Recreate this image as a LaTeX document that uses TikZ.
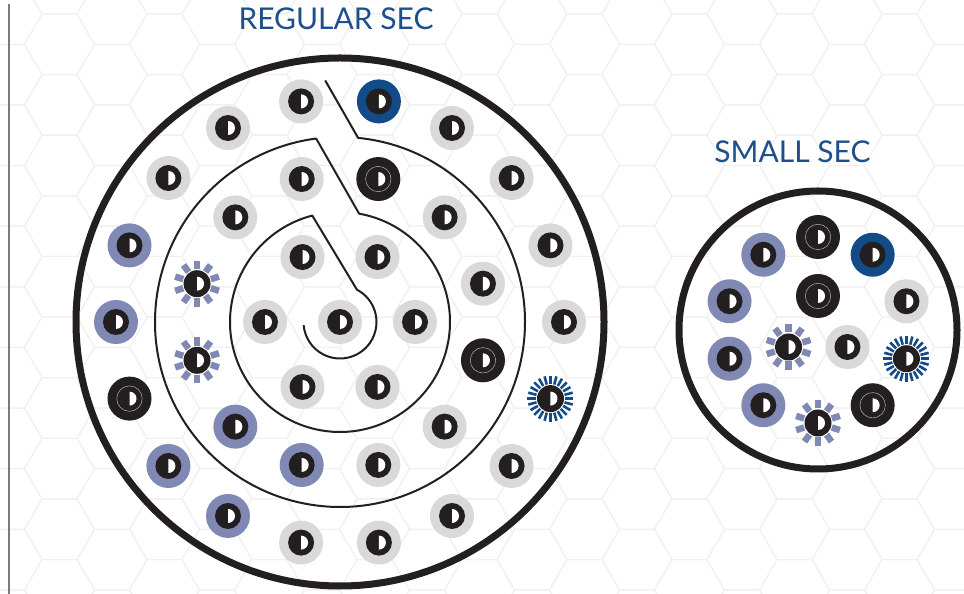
\documentclass[tikz,border=0pt]{standalone}
\usepackage{fontspec}
\setmainfont{Lato}
\usetikzlibrary{calc}
\definecolor{ink}{HTML}{231F20}
\definecolor{ltgray}{HTML}{D9D9D9}
\definecolor{slate}{HTML}{8089B4}
\definecolor{navy}{HTML}{124B87}
\definecolor{titleblue}{HTML}{1F4E8C}
\definecolor{hexline}{HTML}{F0F0F0}
\definecolor{vline}{HTML}{7A7A7A}
\tikzset{
  title/.style={text=titleblue, font=\fontsize{30}{33}\selectfont, inner sep=0pt, anchor=base},
  rim/.style={draw=ink, line width=7pt},
  spiral/.style={draw=ink, line width=2pt, line join=round},
  pics/tok/.style={code={
     \fill[#1] (0,0) circle[radius=22];
     \fill[ink] (0,0) circle[radius=13];
     \fill[white] (0,-7) arc[start angle=-90,end angle=90,radius=7] -- cycle;
  }},
  pics/blk/.style={code={
     \fill[ink] (0,0) circle[radius=22];
     \draw[gray!60, line width=0.5pt] (0,0) circle[radius=12.7];
     \fill[white] (0,-7) arc[start angle=-90,end angle=90,radius=7] -- cycle;
  }},
  pics/sunslate/.style={code={
     \foreach \a in {18,54,...,342} \draw[slate, line width=6.5pt] (\a:14.5) -- (\a:23);
     \fill[ink] (0,0) circle[radius=13.5];
     \fill[white] (0,-7) arc[start angle=-90,end angle=90,radius=7] -- cycle;
  }},
  pics/sunnavy/.style={code={
     \foreach \a in {0,15,...,345} \draw[navy, line width=2.6pt] (\a:14.5) -- (\a:23);
     \fill[ink] (0,0) circle[radius=13.5];
     \fill[white] (0,-7) arc[start angle=-90,end angle=90,radius=7] -- cycle;
  }},
}
\begin{document}
\begin{tikzpicture}[x=1pt,y=1pt]
\useasboundingbox (0,0) rectangle (964,594);
\fill[white] (0,0) rectangle (964,594);
% hexagon background
\begin{scope}
\clip (0,0) rectangle (964,594);
\foreach \k in {-14,...,6} {
  \pgfmathsetmacro\cx{689.5+52.5*\k}
  \pgfmathsetmacro\off{30.31*mod(\k+100,2)}
  \foreach \m in {-1,...,10} {
    \pgfmathsetmacro\cy{594-(44.3+60.62*\m+\off)}
    \draw[hexline, line width=1pt] (\cx+35,\cy) -- ++(120:35) -- ++(180:35) -- ++(240:35) -- ++(300:35) -- ++(0:35) -- cycle;
  }
}
\end{scope}
% left rule
\draw[vline, line width=2pt] (8.5,590) -- (8.5,0);
% centres
\coordinate (B) at (340,272);
\coordinate (S) at (818,264);
% titles
\node[title] (t1) at (336,564) {REGULAR SEC};
\node[title] (t2) at (792.5,431) {SMALL SEC};
% rims
\path[rim] (B) circle[radius=264];
\path[rim] (S) circle[radius=139];
% spiral
\path[spiral]
  ($(B)+(93.5:242)$) -- ($(B)+(84.4:185)$)
  arc[start angle=84.4, end angle=-262.6, radius=185]
  -- ($(B)+(80:110)$)
  arc[start angle=80, end angle=-255.4, radius=110]
  -- ($(B)+(62.4:36.5)$)
  arc[start angle=62.4, end angle=-175, radius=36.5];
% big: outer ring r=224
\pic (a0) at ($(B)+(0:224)$) {tok=ltgray};
\pic (a1) at ($(B)+(20:224)$) {tok=ltgray};
\pic (a2) at ($(B)+(40:224)$) {tok=ltgray};
\pic (a3) at ($(B)+(60:224)$) {tok=ltgray};
\pic (a4) at ($(B)+(80:224)$) {tok=navy};
\pic (a5) at ($(B)+(100:224)$) {tok=ltgray};
\pic (a6) at ($(B)+(120:224)$) {tok=ltgray};
\pic (a7) at ($(B)+(140:224)$) {tok=ltgray};
\pic (a8) at ($(B)+(160:224)$) {tok=slate};
\pic (a9) at ($(B)+(180:224)$) {tok=slate};
\pic (a10) at ($(B)+(200:224)$) {blk};
\pic (a11) at ($(B)+(220:224)$) {tok=slate};
\pic (a12) at ($(B)+(240:224)$) {tok=slate};
\pic (a13) at ($(B)+(260:224)$) {tok=ltgray};
\pic (a14) at ($(B)+(280:224)$) {tok=ltgray};
\pic (a15) at ($(B)+(300:224)$) {tok=ltgray};
\pic (a16) at ($(B)+(320:224)$) {tok=ltgray};
\pic (a17) at ($(B)+(340:224)$) {sunnavy};
% big: middle ring r=148
\pic (b0) at ($(B)+(15:148)$) {tok=ltgray};
\pic (b1) at ($(B)+(45:148)$) {tok=ltgray};
\pic (b2) at ($(B)+(75:148)$) {blk};
\pic (b3) at ($(B)+(105:148)$) {tok=ltgray};
\pic (b4) at ($(B)+(135:148)$) {tok=ltgray};
\pic (b5) at ($(B)+(165:148)$) {sunslate};
\pic (b6) at ($(B)+(195:148)$) {sunslate};
\pic (b7) at ($(B)+(225:148)$) {tok=slate};
\pic (b8) at ($(B)+(255:148)$) {tok=slate};
\pic (b9) at ($(B)+(285:148)$) {tok=ltgray};
\pic (b10) at ($(B)+(315:148)$) {tok=ltgray};
\pic (b11) at ($(B)+(345:148)$) {blk};
% big: inner ring r=75 and centre
\pic (c0) at ($(B)+(0:75)$) {tok=ltgray};
\pic (c1) at ($(B)+(60:75)$) {tok=ltgray};
\pic (c2) at ($(B)+(120:75)$) {tok=ltgray};
\pic (c3) at ($(B)+(180:75)$) {tok=ltgray};
\pic (c4) at ($(B)+(240:75)$) {tok=ltgray};
\pic (c5) at ($(B)+(300:75)$) {tok=ltgray};
\pic (c6) at (B) {tok=ltgray};
% small circle
\pic (s0) at ($(S)+(90:93)$) {blk};
\pic (s1) at ($(S)+(54:93)$) {tok=navy};
\pic (s2) at ($(S)+(18:93)$) {tok=ltgray};
\pic (s3) at ($(S)+(-18:93)$) {sunnavy};
\pic (s4) at ($(S)+(-54:93)$) {blk};
\pic (s5) at ($(S)+(-90:93)$) {sunslate};
\pic (s6) at ($(S)+(-126:93)$) {tok=slate};
\pic (s7) at ($(S)+(-162:93)$) {tok=slate};
\pic (s8) at ($(S)+(162:93)$) {tok=slate};
\pic (s9) at ($(S)+(126:93)$) {tok=slate};
\pic (i0) at ($(S)+(90:34)$) {blk};
\pic (i1) at ($(S)+(210:34)$) {sunslate};
\pic (i2) at ($(S)+(330:34)$) {tok=ltgray};
\end{tikzpicture}
\end{document}
